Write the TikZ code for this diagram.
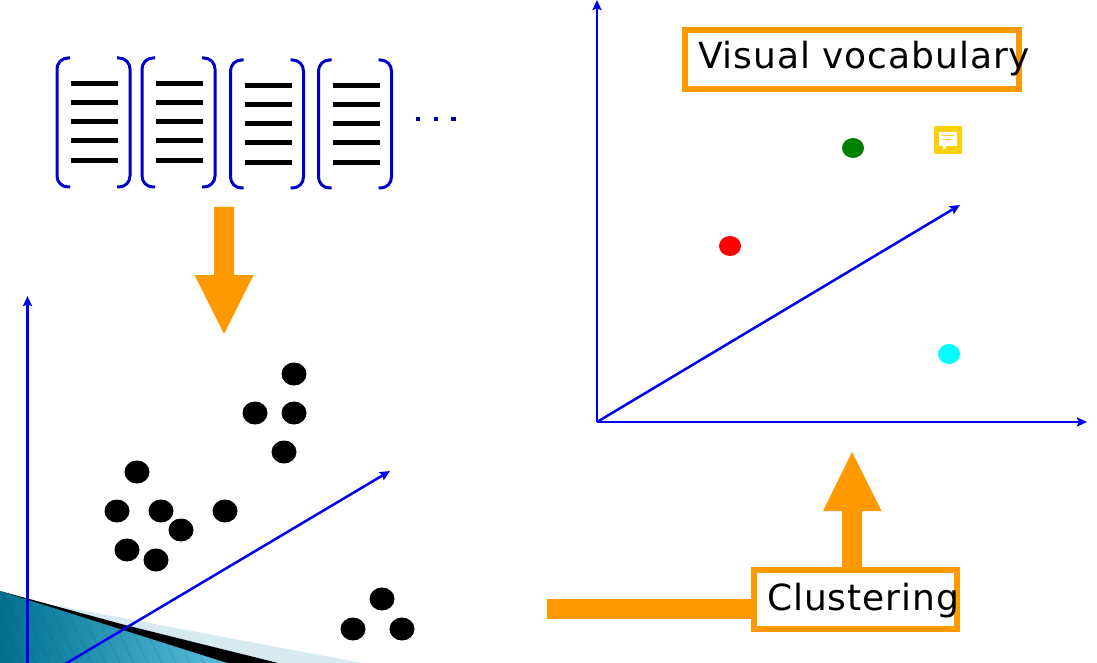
\documentclass[tikz,border=0pt]{standalone}
\usepackage{fontspec}
\setmainfont{DejaVu Sans}
\usetikzlibrary{arrows.meta,shapes.geometric}
\definecolor{orng}{RGB}{255,153,0}
\definecolor{axisblue}{RGB}{0,0,240}
\definecolor{brk}{RGB}{0,0,204}
\definecolor{dotblue}{RGB}{0,0,170}
\definecolor{paleteal}{RGB}{215,233,241}
\definecolor{tealdark}{RGB}{0,112,143}
\definecolor{teallight}{RGB}{92,190,222}
\definecolor{stickyyel}{RGB}{255,208,0}
\definecolor{vgreencol}{RGB}{0,128,0}
\definecolor{vredcol}{RGB}{255,0,0}
\definecolor{vcyancol}{RGB}{0,255,255}
\tikzset{
 x=1pt,y=-1pt,
 axisline/.style={draw=axisblue,line width=2.5pt,-{Stealth[length=10pt,width=9pt,inset=1.5pt]}},
 bracketline/.style={draw=brk,line width=3pt,rounded corners=11pt},
 textline/.style={draw=black,line width=5pt},
 bigdot/.style={ellipse,draw=none,fill=black,minimum width=25pt,minimum height=23pt,inner sep=0pt},
 smalldot/.style={ellipse,draw=none,minimum width=22pt,minimum height=20pt,inner sep=0pt},
 orangebox/.style={draw=orng,line width=6pt,fill=white,inner sep=0pt},
 label text/.style={font=\fontsize{36}{36}\selectfont\addfontfeatures{LetterSpace=2.6},anchor=base west,inner sep=0pt,text=black},
 pixeldot/.style={fill=dotblue,draw=none,minimum size=4.5pt,inner sep=0pt},
}
\newcommand{\doccol}[4]{%
 \draw[bracketline] (#1+13,#2) -- (#1,#2) -- (#1,#3) -- (#1+13,#3);
 \draw[bracketline] (#1+60,#2) -- (#1+73,#2) -- (#1+73,#3) -- (#1+60,#3);
 \foreach \ly in {26,45,64,82.5,102.5}
   \draw[textline] (#1+#4,#2+\ly) -- (#1+#4+47,#2+\ly);
}
\begin{document}
\begin{tikzpicture}
\useasboundingbox (0,0) rectangle (1097,663);
\begin{scope}
\clip (0,0) rectangle (1097,663);
% corner decoration
\fill[paleteal] (27,600) -- (362,663) -- (27,663) -- cycle;
\fill[black] (0,591) -- (125,625) -- (278,663) -- (0,663) -- cycle;
\begin{scope}
\clip (0,591) -- (227,663) -- (0,663) -- cycle;
\shade[left color=tealdark,right color=teallight] (0,591) rectangle (227,663);
\foreach \k in {0,14,...,300}
  \draw[tealdark!70!black,opacity=.18,line width=.8pt] (\k-30,585) -- (\k+8,663);
\end{scope}
\coordinate (ltop) at (27.5,296);
\coordinate (lbot) at (27.5,670);
\coordinate (dstart) at (50,673);
\coordinate (dend) at (390,471);
\draw[axisline] (lbot) -- (ltop);
\draw[axisline] (dstart) -- (dend);
\end{scope}
% documents
\doccol{57}{58}{187}{14}
\doccol{142}{58}{187}{14}
\doccol{230.5}{60}{188}{14}
\doccol{318.5}{60}{188}{14}
\node[pixeldot] (d1) at (418,119) {};
\node[pixeldot] (d2) at (436,119) {};
\node[pixeldot] (d3) at (453.5,119) {};
% down arrow
\fill[orng] (214,207) -- (234,207) -- (234,275) -- (253.5,275) -- (224,334) -- (194.5,275) -- (214,275) -- cycle;
% black dots
\foreach \n/\p in {a/{294,374},b/{255,413},c/{294,413},e/{284,452},f/{137,472},g/{117,511},h/{161,511},i/{225,511},j/{181,530},k/{127,550},l/{156,560},m/{382,599},o/{353,629},q/{402,629}}
  \node[bigdot] (dot\n) at (\p) {};
% right axes
\coordinate (org) at (597,422);
\coordinate (rtop) at (597,0);
\coordinate (rright) at (1087,422);
\coordinate (rdiag) at (960,205);
\draw[axisline] (org) -- (rtop);
\draw[axisline] (org) -- (rright);
\draw[axisline] (org) -- (rdiag);
% vocabulary
\node[smalldot,fill=vgreencol] (vgreen) at (853,148) {};
\node[smalldot,fill=vredcol] (vred) at (730,246) {};
\node[smalldot,fill=vcyancol] (vcyan) at (949,354) {};
% sticky note
\fill[stickyyel,rounded corners=1.5pt] (934,126) rectangle (962,154);
\fill[white] (939,132) -- (957,132) -- (957,146) -- (947,146) -- (943,150) -- (943,146) -- (939,146) -- cycle;
\draw[stickyyel,line width=1pt] (942,136) -- (954,136) (942,140) -- (951,140);
% Visual vocabulary
\node[orangebox,minimum width=334pt,minimum height=59pt] (vv) at (852,59.5) {};
\node[label text] (vvt) at (698,69) {Visual vocabulary};
% lower arrow
\fill[orng] (547,599) rectangle (752,619);
\fill[orng] (842,570) -- (842,511) -- (823,511) -- (852,452) -- (881.5,511) -- (862,511) -- (862,570) -- cycle;
\node[orangebox,minimum width=203pt,minimum height=59pt] (cl) at (855.5,599.5) {};
\node[label text] (clt) at (767,610) {Clustering};
\end{tikzpicture}
\end{document}
